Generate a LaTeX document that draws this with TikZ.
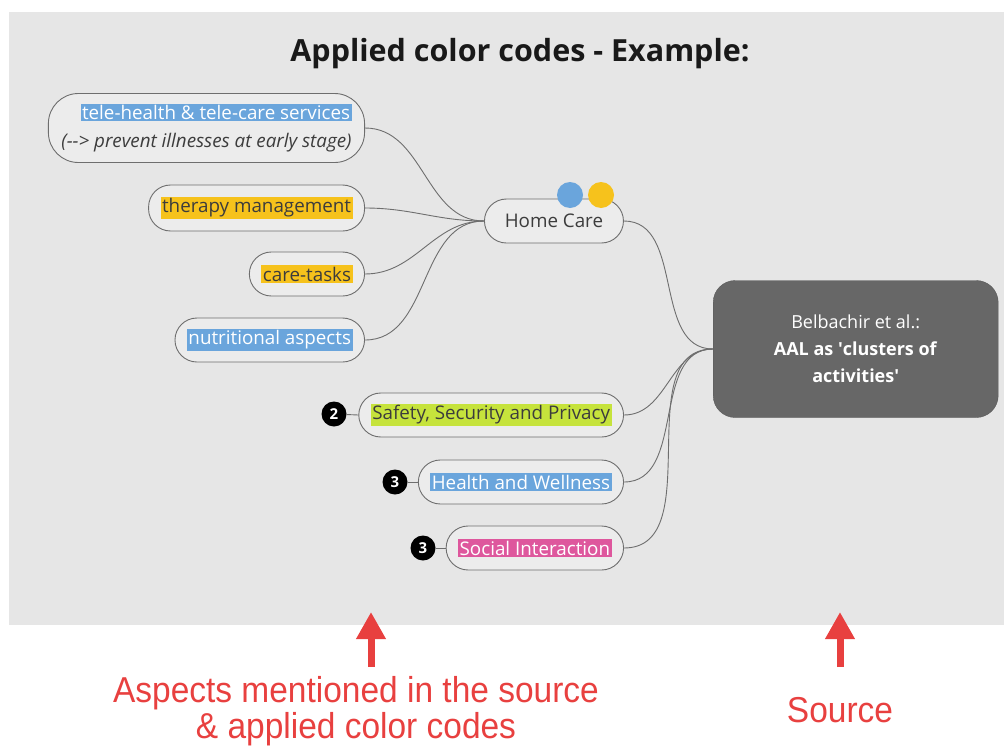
\documentclass[tikz,border=0pt]{standalone}
\usepackage{fontspec}
\setmainfont{Open Sans}
\newfontfamily\redfont[FakeStretch=0.93]{Liberation Sans}
\usepackage{tikz}
\usetikzlibrary{arrows.meta}
\definecolor{canvas}{HTML}{E6E6E6}
\definecolor{pillbg}{HTML}{ECECEC}
\definecolor{edge}{HTML}{6E6E6E}
\definecolor{ink}{HTML}{3C3C3C}
\definecolor{hlblue}{HTML}{6AA5DC}
\definecolor{hlyellow}{HTML}{F6C21C}
\definecolor{hlgreen}{HTML}{C6E33C}
\definecolor{hlpink}{HTML}{DE579D}
\definecolor{srcbg}{HTML}{676767}
\definecolor{alert}{HTML}{E8403F}
% highlighted label: colour, text colour, text
\newcommand{\hlbox}[3]{{\setlength{\fboxsep}{1.5pt}\colorbox{#1}{\textcolor{#2}{#3}}}}
\tikzset{
  pill/.style={draw=edge, fill=pillbg, line width=0.9pt, rounded corners=22pt,
    minimum height=44pt, inner xsep=12pt, text=ink,
    font=\fontsize{18.8}{22}\selectfont},
  link/.style={draw=edge, line width=0.9pt},
  badge/.style={circle, fill=black, text=white, inner sep=0pt, minimum size=25pt,
    font=\bfseries\fontsize{15}{15}\selectfont},
  dot/.style={circle, inner sep=0pt, minimum size=26pt},
  srcbox/.style={draw=srcbg!85!black, fill=srcbg, rounded corners=22pt, text=white,
    minimum width=285pt, minimum height=137pt, align=center,
    font=\fontsize{18}{27}\selectfont},
  redlab/.style={text=alert, align=center, font=\redfont\fontsize{36}{36}\selectfont},
  redarrow/.style={draw=alert, line width=7pt, -{Triangle[width=28pt,length=27pt]}},
}

\begin{document}
\begin{tikzpicture}[x=1pt,y=-1pt]
  \useasboundingbox (0,0) rectangle (1004,747);
  \fill[canvas] (9,12) rectangle (1004,625);

  \node[font=\bfseries\fontsize{30.5}{34}\selectfont, text=black!90] (title) at (520,54)
    {Applied color codes - Example:};

  % aspects around home care
  \node[pill, anchor=east, minimum height=69pt, rounded corners=30pt, align=right,
    inner xsep=13pt, font=\fontsize{18.8}{28}\selectfont] (tele) at (365,128)
    {\hlbox{hlblue}{white}{tele-health \& tele-care services}\\
     \textit{(-{}-> prevent illnesses at early stage)}};
  \node[pill, anchor=east, minimum height=46pt] (therapy) at (365,208)
    {\hlbox{hlyellow}{ink}{therapy management}};
  \node[pill, anchor=east] (care) at (365,274)
    {\hlbox{hlyellow}{ink}{care-tasks}};
  \node[pill, anchor=east] (nutri) at (365,340)
    {\hlbox{hlblue}{white}{nutritional aspects}};

  \node[pill, anchor=west, minimum width=139pt] (home) at (484,221) {Home Care};
  \node[dot, fill=hlblue] (dotb) at (570,195) {};
  \node[dot, fill=hlyellow] (doty) at (601,195) {};

  % aspects straight from the source
  \node[pill, anchor=east] (safety) at (624,415)
    {\hlbox{hlgreen}{ink}{Safety, Security and Privacy}};
  \node[pill, anchor=east] (health) at (624,482)
    {\hlbox{hlblue}{white}{Health and Wellness}};
  \node[pill, anchor=east] (social) at (624,548)
    {\hlbox{hlpink}{white}{Social Interaction}};

  \node[badge] (b2) at (334,414) {2};
  \node[badge] (b3a) at (395,482) {3};
  \node[badge] (b3b) at (423,548) {3};
  \draw[link] (b2) -- (safety.west);
  \draw[link] (b3a) -- (health.west);
  \draw[link] (b3b) -- (social.west);

  \node[srcbox, anchor=west] (src) at (713,349)
    {Belbachir et al.:\\ \textbf{AAL as \textquotesingle clusters of}\\
     \textbf{activities\textquotesingle}};

  \foreach \n in {tele,therapy,care,nutri}
    \draw[link] (\n.east) to[out=0,in=180] (home.west);
  \foreach \n in {home,safety,health,social}
    \draw[link] (\n.east) to[out=0,in=180] (src.west);

  % red pointers below the panel
  \coordinate (aspfoot) at (371,667);
  \coordinate (aspTip) at (371,612);
  \coordinate (srcfoot) at (840,667);
  \coordinate (srcTip) at (840,612);
  \draw[redarrow] (aspfoot) -- (aspTip);
  \draw[redarrow] (srcfoot) -- (srcTip);
  \node[redlab] (asplab) at (356,711)
    {Aspects mentioned in the source\\ \& applied color codes};
  \node[redlab] (srclab) at (840,710) {Source};
\end{tikzpicture}
\end{document}
